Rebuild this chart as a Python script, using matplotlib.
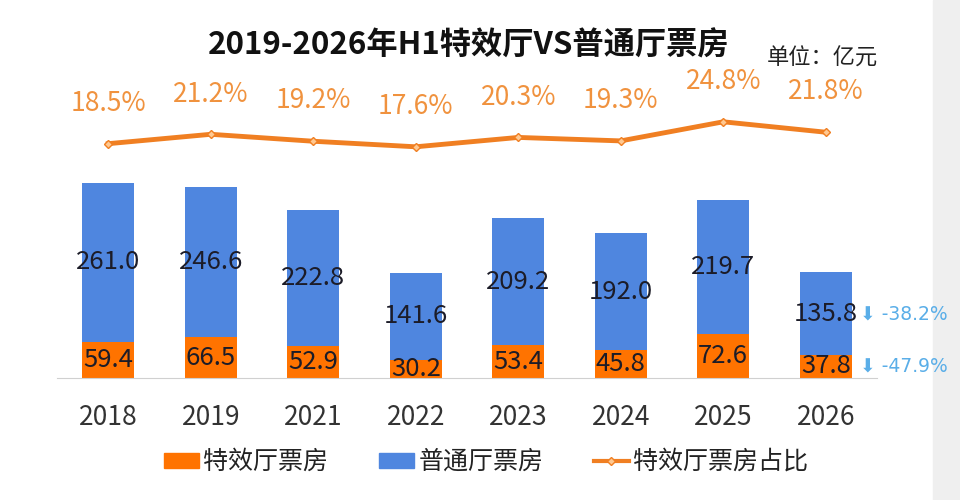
import numpy as np
import matplotlib
matplotlib.use('Agg')
import matplotlib.pyplot as plt
from matplotlib.patches import Rectangle
from matplotlib.lines import Line2D
from matplotlib.patches import Patch

plt.rcParams['font.family'] = ['Noto Sans CJK SC', 'DejaVu Sans']

years = ['2018', '2019', '2021', '2022', '2023', '2024', '2025', '2026']
special = [59.4, 66.5, 52.9, 30.2, 53.4, 45.8, 72.6, 37.8]
normal = [261.0, 246.6, 222.8, 141.6, 209.2, 192.0, 219.7, 135.8]
share = [18.5, 21.2, 19.2, 17.6, 20.3, 19.3, 24.8, 21.8]
change_normal = '-38.2%'
change_special = '-47.9%'

C_ORANGE = '#FF7300'
C_BLUE = '#4F86DF'
C_LINE = '#F07F22'
C_PCT = '#F0923E'
C_CHG = '#5AAEE8'
C_TXT = '#1c1c28'

fig = plt.figure(figsize=(9.6, 5), dpi=100)
fig.patch.set_facecolor('white')
fig.add_artist(Rectangle((933 / 960, 0), 1 - 933 / 960, 1, transform=fig.transFigure,
                         color='#efefef', zorder=0))

ax = fig.add_axes([57 / 960, 1 - 378 / 500, 820 / 960, 268 / 500])
ax.patch.set_alpha(0)
x = np.arange(len(years))
w = 0.51
ax.bar(x, special, w, color=C_ORANGE, zorder=2)
ax.bar(x, normal, w, bottom=special, color=C_BLUE, zorder=2)
ax.set_xlim(-0.5, len(years) - 0.5)
ax.set_ylim(0, 440)

for i in range(len(years)):
    ax.text(x[i], special[i] / 2, f'{special[i]:.1f}', ha='center', va='center',
            fontsize=18.5, color=C_TXT, zorder=3)
    ax.text(x[i], special[i] + normal[i] / 2, f'{normal[i]:.1f}', ha='center', va='center',
            fontsize=18.5, color=C_TXT, zorder=3)

# change annotations on the last year
last = len(years) - 1
ax.text(last + 0.33, special[last] + normal[last] / 2, '⬇ ' + change_normal, ha='left',
        va='center', fontsize=13.5, color=C_CHG, family=['DejaVu Sans'])
ax.text(last + 0.33, special[last] / 2, '⬇ ' + change_special, ha='left',
        va='center', fontsize=13.5, color=C_CHG, family=['DejaVu Sans'])

ax.set_xticks(x)
ax.set_xticklabels(years, fontsize=19, color='#333333')
ax.tick_params(axis='x', length=0, pad=19)
ax.set_yticks([])
for s in ['top', 'left', 'right']:
    ax.spines[s].set_visible(False)
ax.spines['bottom'].set_color('#d0d0d0')

ax2 = ax.twinx()
ax2.set_ylim(-49, 28.2)
ax2.plot(x, share, color=C_LINE, lw=3.5, marker='D', ms=4, mfc='#ffc890', mec=C_LINE,
         zorder=3)
for i in range(len(years)):
    ax2.annotate(f'{share[i]:.1f}%', (x[i], share[i]), xytext=(0, 29),
                 textcoords='offset points', ha='center', va='center',
                 fontsize=19, color=C_PCT)
ax2.set_yticks([])
for s in ['top', 'left', 'right', 'bottom']:
    ax2.spines[s].set_visible(False)

fig.text(469 / 960, 1 - 46 / 500, '2019-2026年H1特效厅VS普通厅票房', ha='center',
         va='center', fontsize=22.5, fontweight='bold', color='#111111')
fig.text(822 / 960, 1 - 58 / 500, '单位：亿元', ha='center', va='center',
         fontsize=16, color='#222222')

handles = [Patch(color=C_ORANGE), Patch(color=C_BLUE),
           Line2D([0], [0], color=C_LINE, lw=3, marker='D', ms=4, mfc='#ffc890')]
fig.legend(handles, ['特效厅票房', '普通厅票房', '特效厅票房占比'], loc='center',
           bbox_to_anchor=(486 / 960, 1 - 462 / 500), ncol=3, frameon=False,
           fontsize=18, handlelength=1.4, handleheight=0.55, columnspacing=2.0,
           handletextpad=0.2, labelcolor='#222222')

fig.savefig('out.png', dpi=100)
